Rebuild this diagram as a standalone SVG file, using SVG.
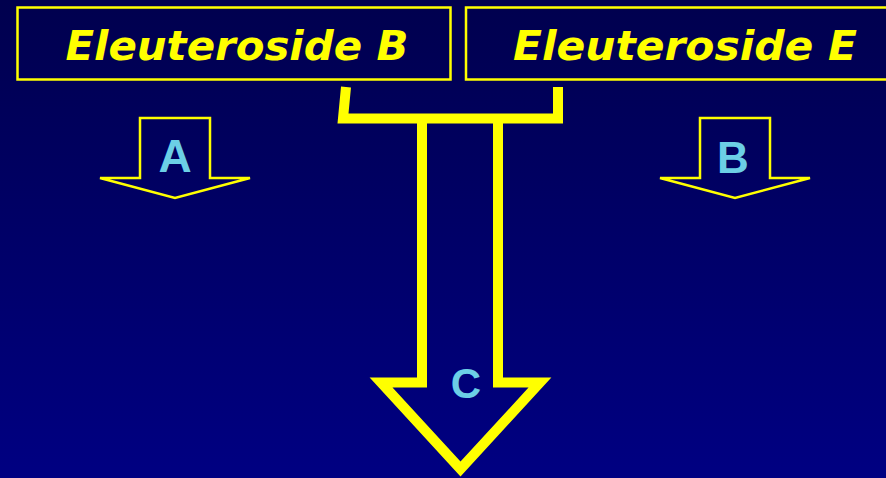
<svg xmlns="http://www.w3.org/2000/svg" width="886" height="478" viewBox="0 0 886 478">
<defs>
<linearGradient id="bg" x1="0" y1="0" x2="0" y2="1">
<stop offset="0" stop-color="#00004e"/>
<stop offset="1" stop-color="#000082"/>
</linearGradient>
<style>
.box{fill:none;stroke:#ffff00;stroke-width:2.5}
.title{font-family:"DejaVu Sans",Verdana,sans-serif;font-weight:bold;font-style:italic;font-size:41px;fill:#ffff00;text-anchor:middle}
.small{fill:none;stroke:#ffff00;stroke-width:2.5;stroke-linejoin:miter}
.big{fill:none;stroke:#ffff00;stroke-width:10;stroke-linejoin:miter;stroke-miterlimit:10}
.lbl{font-family:"Liberation Sans",Arial,sans-serif;font-weight:bold;fill:#6ccfe6;text-anchor:middle}
</style>
</defs>
<rect width="886" height="478" fill="url(#bg)"/>
<g id="node-eleuteroside-b">
<rect class="box" x="17.5" y="7.5" width="433" height="72"/>
<text class="title" x="237" y="60" textLength="343" lengthAdjust="spacingAndGlyphs">Eleuteroside B</text>
</g>
<g id="node-eleuteroside-e">
<rect class="box" x="466" y="7.5" width="430" height="72"/>
<text class="title" x="685" y="60" textLength="344" lengthAdjust="spacingAndGlyphs">Eleuteroside E</text>
</g>
<g id="connectors">
<g id="arrow-a">
<polygon class="small" points="140,118 210,118 210,178 250,178 175,198 100,178 140,178"/>
<text class="lbl" x="175" y="172" font-size="46">A</text>
</g>
<g id="arrow-b">
<polygon class="small" points="700,118 770,118 770,178 810,178 735,198 660,178 700,178"/>
<text class="lbl" x="733" y="173" font-size="44">B</text>
</g>
<g id="arrow-c">
<polyline class="big" points="346,87 343,118.5 558,118.5 558,87"/>
<polyline class="big" points="422,118 422,382.5 381,382.5 460.5,469 540,382.5 498,382.5 498,118"/>
<text class="lbl" x="466" y="398" font-size="42">C</text>
</g>
</g>
</svg>
